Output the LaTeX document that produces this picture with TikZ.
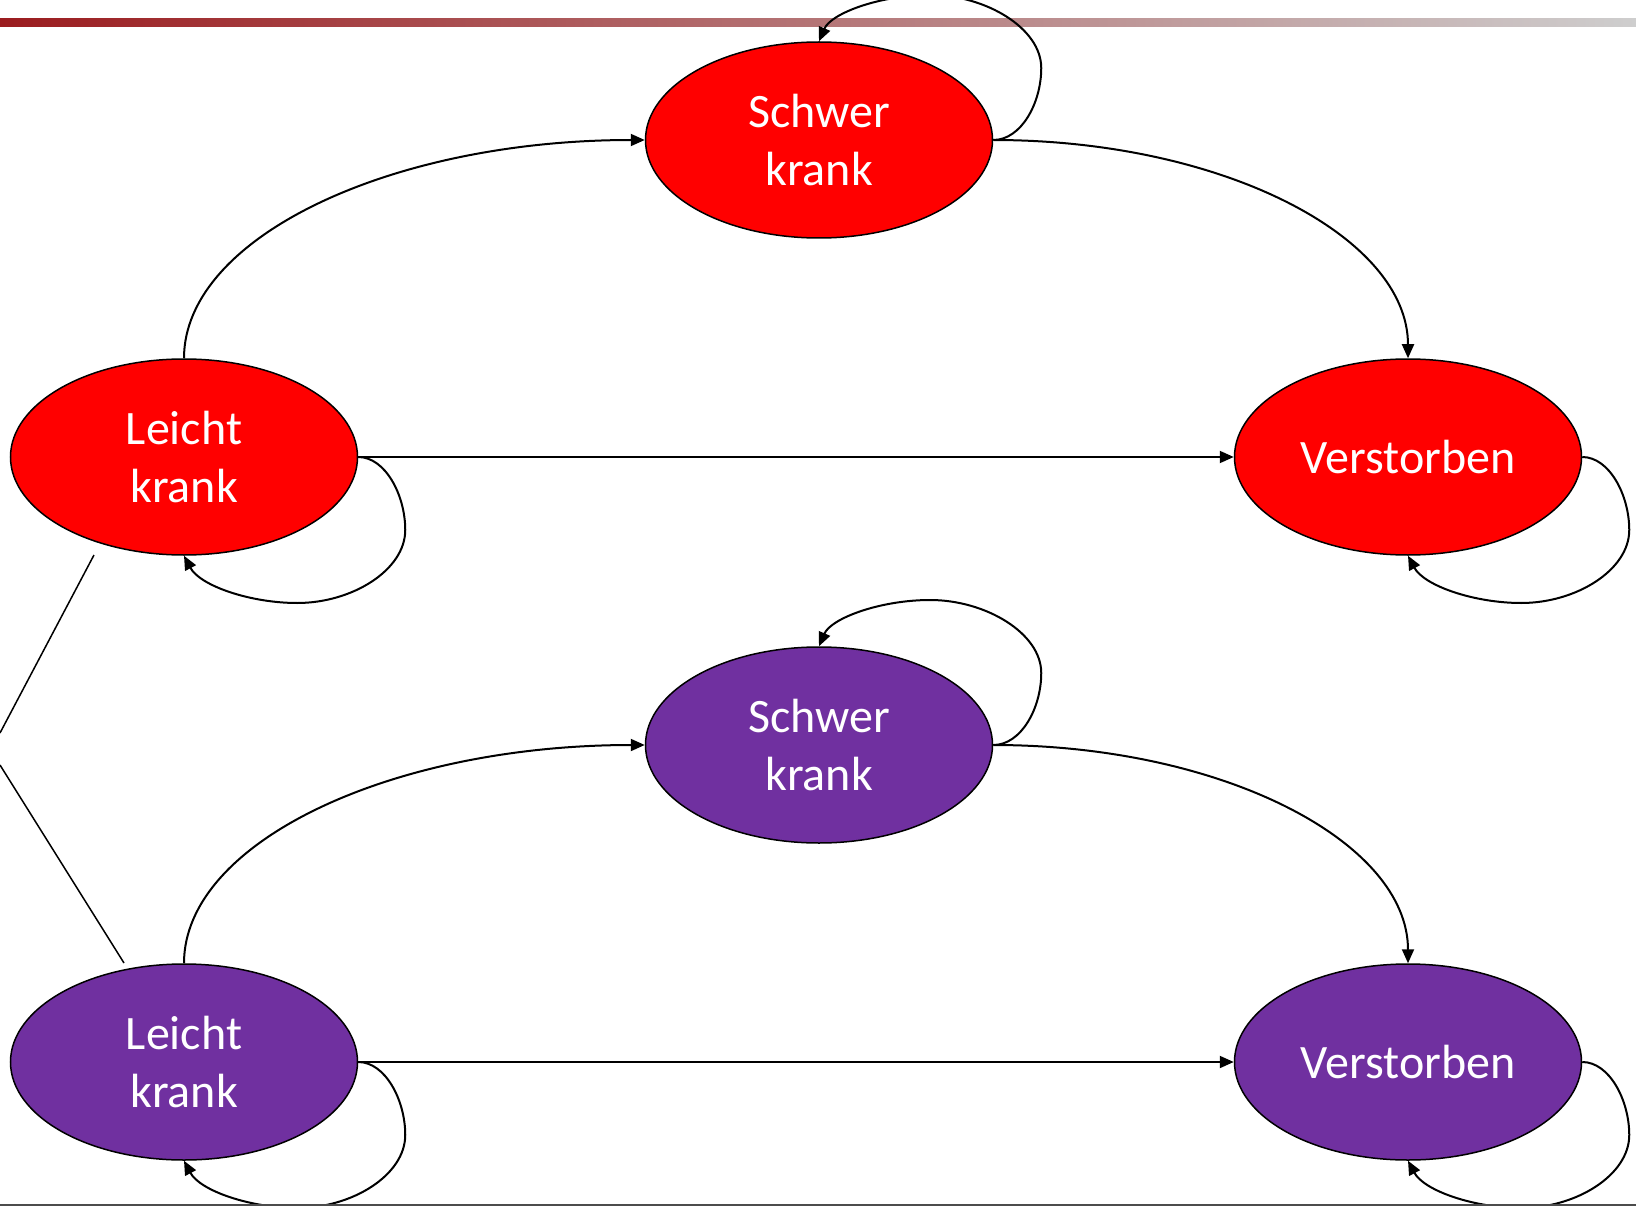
\documentclass[tikz,border=0pt]{standalone}
\usepackage{fontspec}
\setmainfont{Carlito}
\usetikzlibrary{shapes.geometric,arrows.meta}
\definecolor{krankrot}{RGB}{255,0,0}
\definecolor{krankviolett}{RGB}{112,48,160}
\definecolor{balkenrot}{RGB}{155,28,31}
\definecolor{balkengrau}{RGB}{206,206,206}

\begin{document}
\begin{tikzpicture}[x=1pt,y=-1pt,
    zustand/.style={ellipse, draw=black, line width=1.5pt, minimum width=347pt, minimum height=196pt,
      inner sep=0pt, text=white, align=center, font=\fontsize{48}{58}\selectfont},
    pfeil/.style={line width=2pt, -{Triangle[length=14pt,width=12pt]}}]
  \useasboundingbox (0,0) rectangle (1636,1206);
  % balken oben
  \fill[left color=balkenrot, right color=balkengrau] (0,19) rectangle (1636,27);

  % obere reihe
  \node[zustand, fill=krankrot] (sk1) at (819,140) {Schwer\\krank};
  \node[zustand, fill=krankrot] (lk1) at (184,457) {Leicht\\krank};
  \node[zustand, fill=krankrot] (vs1) at (1408,457) {Verstorben};

  \draw[pfeil] (lk1.north) .. controls +(0,-121) and +(-254,0) .. (sk1.west);
  \draw[pfeil] (sk1.east) .. controls +(230,0) and +(0,-121) .. (vs1.north);
  \draw[pfeil] (lk1.east) -- (vs1.west);
  \draw[pfeil] (lk1.east) .. controls +(27,0) and +(0,-35) .. ++(47,73) .. controls +(0,40) and +(55,0) .. ++(-108,73) .. controls +(-47,0) and +(16,30) .. (lk1.south);
  \draw[pfeil] (vs1.east) .. controls +(27,0) and +(0,-35) .. ++(47,73) .. controls +(0,40) and +(55,0) .. ++(-108,73) .. controls +(-47,0) and +(16,30) .. (vs1.south);
  \draw[pfeil] (sk1.east) .. controls +(28,0) and +(0,35) .. ++(48,-72) .. controls +(0,-40) and +(55,0) .. ++(-111,-73) .. controls +(-50,0) and +(12,-28) .. (sk1.north);

  % untere reihe
  \node[zustand, fill=krankviolett] (sk2) at (819,745) {Schwer\\krank};
  \node[zustand, fill=krankviolett] (lk2) at (184,1062) {Leicht\\krank};
  \node[zustand, fill=krankviolett] (vs2) at (1408,1062) {Verstorben};

  \draw[pfeil] (lk2.north) .. controls +(0,-121) and +(-254,0) .. (sk2.west);
  \draw[pfeil] (sk2.east) .. controls +(230,0) and +(0,-121) .. (vs2.north);
  \draw[pfeil] (lk2.east) -- (vs2.west);
  \draw[pfeil] (lk2.east) .. controls +(27,0) and +(0,-35) .. ++(47,73) .. controls +(0,40) and +(55,0) .. ++(-108,73) .. controls +(-47,0) and +(16,30) .. (lk2.south);
  \draw[pfeil] (vs2.east) .. controls +(27,0) and +(0,-35) .. ++(47,73) .. controls +(0,40) and +(55,0) .. ++(-108,73) .. controls +(-47,0) and +(16,30) .. (vs2.south);
  \draw[pfeil] (sk2.east) .. controls +(28,0) and +(0,35) .. ++(48,-72) .. controls +(0,-40) and +(55,0) .. ++(-111,-73) .. controls +(-50,0) and +(12,-28) .. (sk2.north);

  % linien links
  \draw[line width=1.5pt] (94,555) -- (0,733);
  \draw[line width=1.5pt] (0,765) -- (124,963);
  %\draw[line width=1.5pt] (0,733) -- (0,765);

  % linie unten
  \draw[line width=2pt, gray!60!black] (0,1205) -- (1636,1205);
\end{tikzpicture}
\end{document}
